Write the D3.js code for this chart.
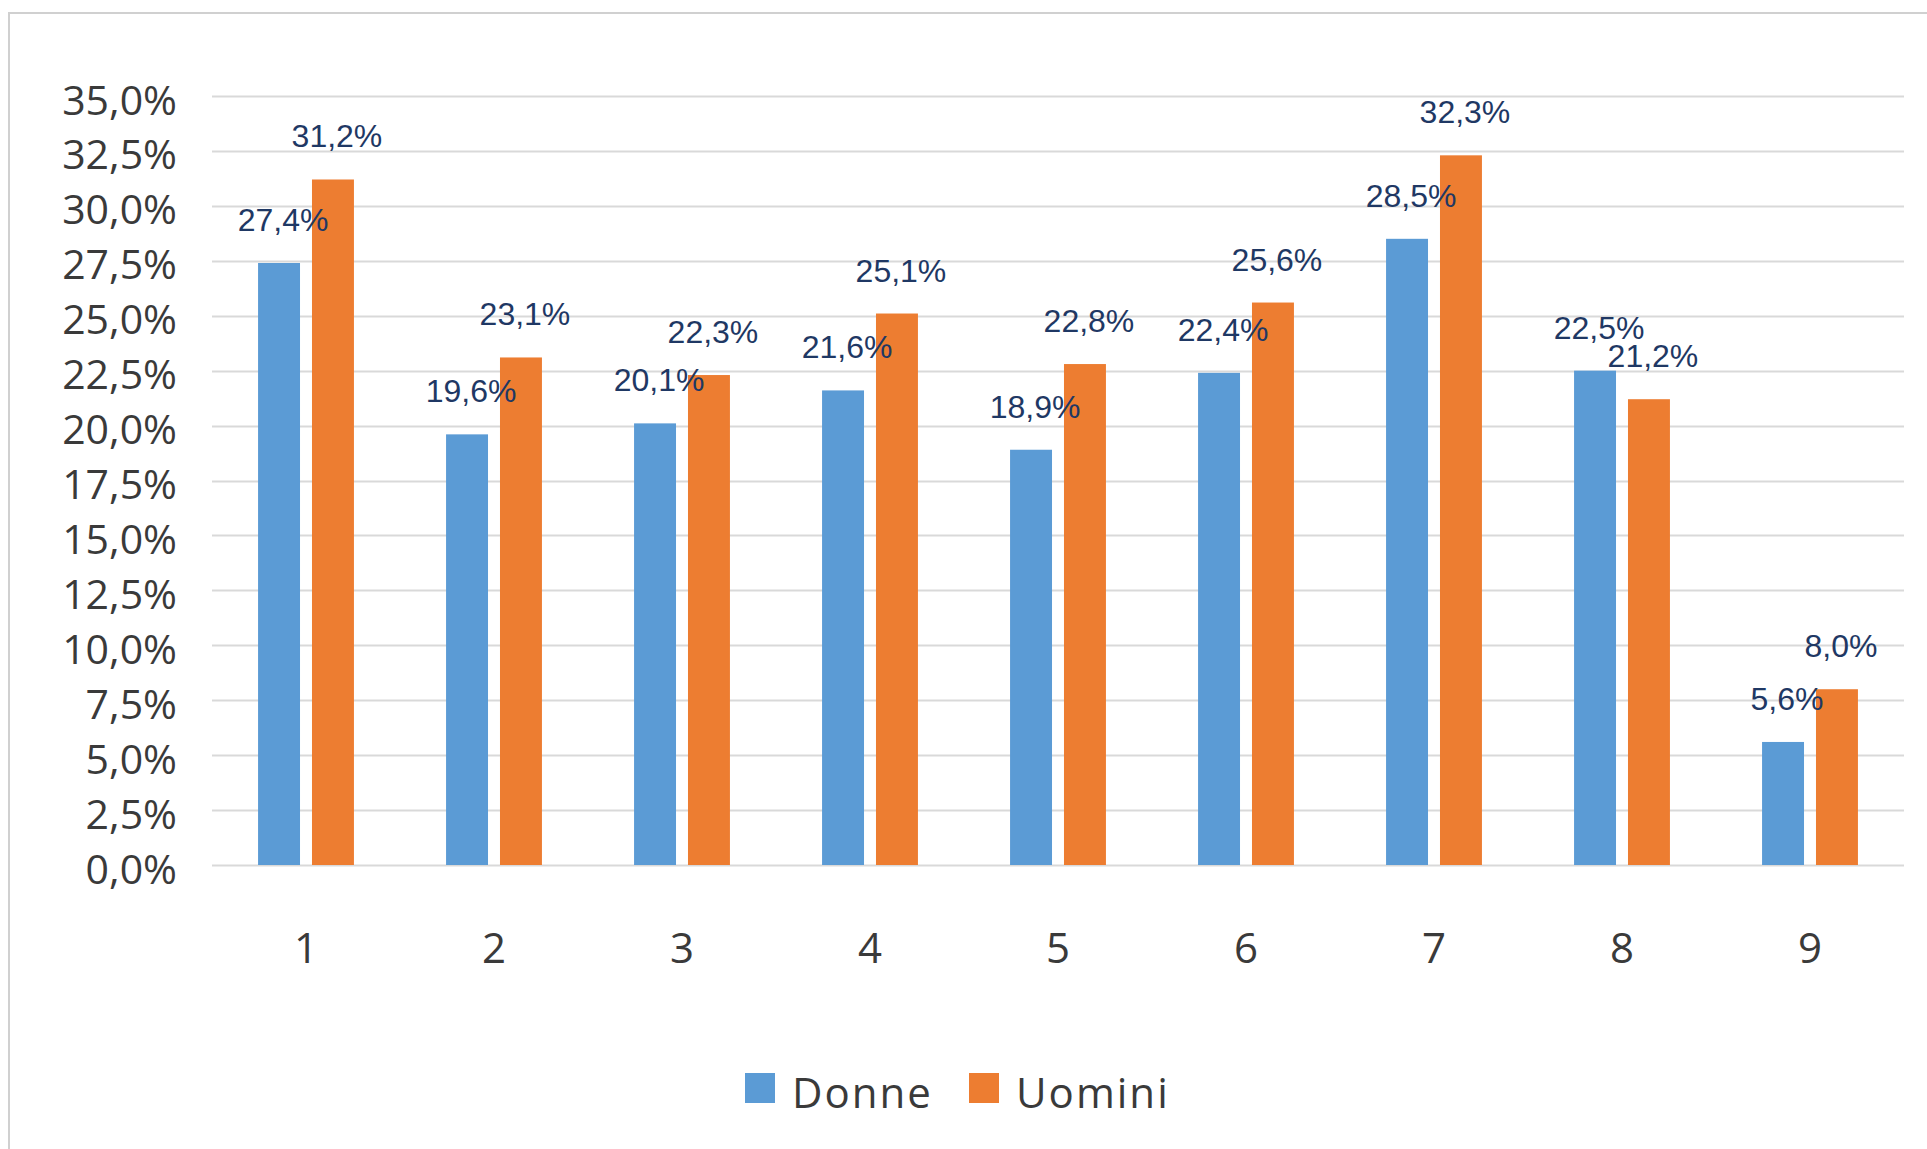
<!DOCTYPE html>
<html>
<head>
<meta charset="utf-8">
<script src="https://cdn.jsdelivr.net/npm/d3@7"></script>
<style>
  body { margin: 0; background: #fff; }
</style>
</head>
<body>
<div id="chart"></div>
<script>
// data
var categories = ["1", "2", "3", "4", "5", "6", "7", "8", "9"];
var series = ["Donne", "Uomini"];
var donne  = [27.4, 19.6, 20.1, 21.6, 18.9, 22.4, 28.5, 22.5, 5.6];
var uomini = [31.2, 23.1, 22.3, 25.1, 22.8, 25.6, 32.3, 21.2, 8.0];
var yTicks = [0, 2.5, 5, 7.5, 10, 12.5, 15, 17.5, 20, 22.5, 25, 27.5, 30, 32.5, 35];
var colors = ["#5b9bd5", "#ed7d31"];

var W = 1927, H = 1149;
var plot = {left: 212, right: 1904, top: 96, bottom: 865};

// italian style numbers: comma as decimal
var it = d3.formatLocale({decimal: ",", thousands: ".", grouping: [3], currency: ["", " €"]});
var fmt = it.format(".1f");

var svg = d3.select("#chart")
    .append("svg")
    .attr("width", W)
    .attr("height", H);

// chart border
svg.append("rect")
    .attr("x", 9)
    .attr("y", 13)
    .attr("width", W)
    .attr("height", H)
    .attr("fill", "#fff")
    .attr("stroke", "#d0d0d0")
    .attr("stroke-width", 2);

var x0 = d3.scaleBand()
    .domain(categories)
    .range([plot.left, plot.right])
    .paddingInner(0.49)
    .paddingOuter(0.245);

var x1 = d3.scaleBand()
    .domain(series)
    .range([0, x0.bandwidth()])
    .paddingInner(0.222);

var y = d3.scaleLinear()
    .domain([0, 35])
    .range([plot.bottom, plot.top]);

// gridlines
svg.append("g")
    .selectAll("line")
    .data(yTicks)
    .enter()
    .append("line")
    .attr("x1", plot.left)
    .attr("x2", plot.right)
    .attr("y1", function(d) { return Math.round(y(d)) + 0.5; })
    .attr("y2", function(d) { return Math.round(y(d)) + 0.5; })
    .attr("stroke", "#d9d9d9")
    .attr("stroke-width", 2);

// y axis labels
var yAxis = svg.append("g")
    .attr("transform", "translate(177,0)")
    .call(d3.axisLeft(y).tickValues(yTicks).tickSize(0).tickPadding(0)
        .tickFormat(function(d) { return fmt(d) + "%"; }));
yAxis.select(".domain").remove();
yAxis.selectAll("text")
    .attr("dy", null)
    .attr("y", 18)
    .style("font-family", "'Open Sans', sans-serif")
    .style("font-size", "41px")
    .style("fill", "#3a3a3a");

// x axis labels
var xAxis = svg.append("g")
    .attr("transform", "translate(0," + plot.bottom + ")")
    .call(d3.axisBottom(x0).tickSize(0).tickPadding(0));
xAxis.select(".domain").remove();
xAxis.selectAll("text")
    .attr("dy", null)
    .attr("y", 98)
    .style("font-family", "'Open Sans', sans-serif")
    .style("font-size", "42px")
    .style("fill", "#3a3a3a");

// bars
var rows = categories.map(function(c, i) {
    return {cat: c, values: [
        {key: "Donne", value: donne[i], color: colors[0]},
        {key: "Uomini", value: uomini[i], color: colors[1]}
    ]};
});

var groups = svg.append("g")
    .selectAll("g")
    .data(rows)
    .enter()
    .append("g")
    .attr("transform", function(d) { return "translate(" + x0(d.cat) + ",0)"; });

groups.selectAll("rect")
    .data(function(d) { return d.values; })
    .enter()
    .append("rect")
    .attr("x", function(d) { return x1(d.key); })
    .attr("y", function(d) { return y(d.value); })
    .attr("width", x1.bandwidth())
    .attr("height", function(d) { return y(0) - y(d.value); })
    .attr("fill", function(d) { return d.color; });

// data labels
groups.selectAll("text")
    .data(function(d) { return d.values; })
    .enter()
    .append("text")
    .attr("x", function(d) { return x1(d.key) + x1.bandwidth() / 2 + 4; })
    .attr("y", function(d) { return y(d.value) - 32; })
    .attr("text-anchor", "middle")
    .style("font-family", "'Liberation Sans', Arial, sans-serif")
    .style("font-size", "32px")
    .style("fill", "#1f3864")
    .text(function(d) { return fmt(d.value) + "%"; });

// legend
var legend = svg.append("g");
var legendX = [745, 969];
series.forEach(function(s, i) {
    legend.append("rect")
        .attr("x", legendX[i])
        .attr("y", 1073)
        .attr("width", 30)
        .attr("height", 30)
        .attr("fill", colors[i]);
    legend.append("text")
        .attr("x", legendX[i] + 47)
        .attr("y", 1108)
        .style("font-family", "'Open Sans', sans-serif")
        .style("font-size", "42px")
        .style("letter-spacing", "2px")
        .style("fill", "#3a3a3a")
        .text(s);
});
</script>
</body>
</html>
